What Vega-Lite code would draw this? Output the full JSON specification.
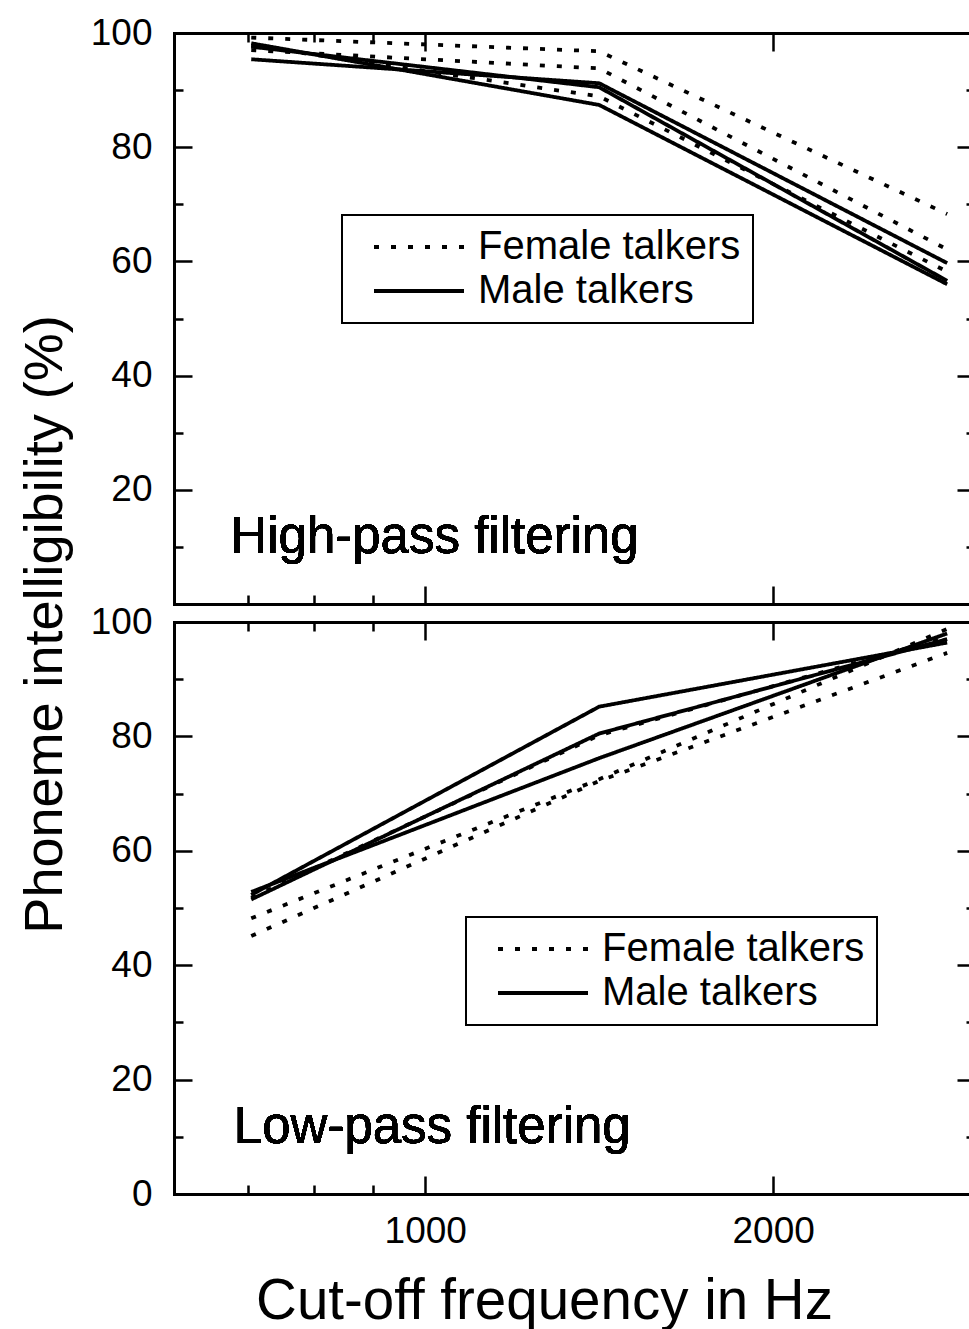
{
  "$schema": "https://vega.github.io/schema/vega-lite/v6.json",
  "autosize": {"type": "none"},
  "padding": {"left": 174, "top": 33, "right": 795, "bottom": 1296},
  "background": "white",
  "bounds": "flush",
  "spacing": 18,
  "config": {
    "view": {"stroke": null},
    "font": "Liberation Sans",
    "axis": {
      "grid": false,
      "domainColor": "black",
      "domainWidth": 3,
      "domainCap": "square",
      "tickColor": "black",
      "tickWidth": 2.5,
      "labelColor": "black",
      "labelFont": "Liberation Sans",
      "labelFontSize": 37,
      "titleColor": "black",
      "titleFont": "Liberation Sans",
      "titleFontWeight": "normal",
      "labelOverlap": false,
      "labelFlush": false,
      "labelBound": false
    },
    "legend": {
      "labelFont": "Liberation Sans",
      "labelColor": "black"
    }
  },
  "datasets": {
    "high": [
      {"talker": "M1", "gender": "Male talkers", "freq": 500, "pct": 98.2},
      {"talker": "M1", "gender": "Male talkers", "freq": 1500, "pct": 87.4},
      {"talker": "M1", "gender": "Male talkers", "freq": 2500, "pct": 56.0},
      {"talker": "M2", "gender": "Male talkers", "freq": 500, "pct": 95.4},
      {"talker": "M2", "gender": "Male talkers", "freq": 1500, "pct": 91.2},
      {"talker": "M2", "gender": "Male talkers", "freq": 2500, "pct": 59.7},
      {"talker": "M3", "gender": "Male talkers", "freq": 500, "pct": 97.6},
      {"talker": "M3", "gender": "Male talkers", "freq": 1500, "pct": 90.5},
      {"talker": "M3", "gender": "Male talkers", "freq": 2500, "pct": 56.6},
      {"talker": "F1", "gender": "Female talkers", "freq": 500, "pct": 99.2},
      {"talker": "F1", "gender": "Female talkers", "freq": 1500, "pct": 96.8},
      {"talker": "F1", "gender": "Female talkers", "freq": 2500, "pct": 68.3},
      {"talker": "F2", "gender": "Female talkers", "freq": 500, "pct": 97.0},
      {"talker": "F2", "gender": "Female talkers", "freq": 1500, "pct": 93.8},
      {"talker": "F2", "gender": "Female talkers", "freq": 2500, "pct": 62.1},
      {"talker": "F3", "gender": "Female talkers", "freq": 500, "pct": 97.8},
      {"talker": "F3", "gender": "Female talkers", "freq": 1500, "pct": 88.9},
      {"talker": "F3", "gender": "Female talkers", "freq": 2500, "pct": 58.2}
    ],
    "low": [
      {"talker": "M1", "gender": "Male talkers", "freq": 500, "pct": 52.3},
      {"talker": "M1", "gender": "Male talkers", "freq": 1500, "pct": 85.2},
      {"talker": "M1", "gender": "Male talkers", "freq": 2500, "pct": 96.4},
      {"talker": "M2", "gender": "Male talkers", "freq": 500, "pct": 51.5},
      {"talker": "M2", "gender": "Male talkers", "freq": 1500, "pct": 80.5},
      {"talker": "M2", "gender": "Male talkers", "freq": 2500, "pct": 97.0},
      {"talker": "M3", "gender": "Male talkers", "freq": 500, "pct": 52.8},
      {"talker": "M3", "gender": "Male talkers", "freq": 1500, "pct": 76.2},
      {"talker": "M3", "gender": "Male talkers", "freq": 2500, "pct": 98.0},
      {"talker": "F1", "gender": "Female talkers", "freq": 500, "pct": 51.8},
      {"talker": "F1", "gender": "Female talkers", "freq": 1500, "pct": 80.2},
      {"talker": "F1", "gender": "Female talkers", "freq": 2500, "pct": 97.4},
      {"talker": "F2", "gender": "Female talkers", "freq": 500, "pct": 48.2},
      {"talker": "F2", "gender": "Female talkers", "freq": 1500, "pct": 72.5},
      {"talker": "F2", "gender": "Female talkers", "freq": 2500, "pct": 98.8},
      {"talker": "F3", "gender": "Female talkers", "freq": 500, "pct": 45.1},
      {"talker": "F3", "gender": "Female talkers", "freq": 1500, "pct": 72.2},
      {"talker": "F3", "gender": "Female talkers", "freq": 2500, "pct": 94.6}
    ]
  },
  "resolve": {"scale": {"strokeDash": "independent"}, "legend": {"strokeDash": "independent"}},
  "vconcat": [
    {
      "width": 801,
      "height": 571,
      "data": {"name": "high"},
      "resolve": {"axis": {"x": "independent", "y": "independent"}},
      "layer": [
        {
          "mark": {"type": "line", "stroke": "black", "strokeWidth": 3.8},
          "encoding": {
            "x": {
              "field": "freq", "type": "quantitative",
              "scale": {"domain": [278, 2580], "nice": false, "zero": false},
              "axis": {
                "orient": "bottom", "labels": false, "title": null,
                "values": [490, 680, 850, 1000, 2000],
                "tickSize": {"condition": {"test": "datum.value >= 1000", "value": -18}, "value": -9}
              }
            },
            "y": {
              "field": "pct", "type": "quantitative",
              "scale": {"domain": [0, 100], "nice": false},
              "axis": {
                "orient": "left",
                "values": [0, 10, 20, 30, 40, 50, 60, 70, 80, 90, 100],
                "labelExpr": "(datum.value % 20 === 0 && datum.value > 0) ? datum.label : ''",
                "tickSize": {"condition": {"test": "datum.value % 20 === 0", "value": -18}, "value": -9},
                "labelPadding": 40,
                "title": "Phoneme intelligibility (%)",
                "titleFontSize": 54,
                "titleX": -113,
                "titleY": 591,
                "titleAngle": -90,
                "titleAlign": "center",
                "titleBaseline": "alphabetic"
              }
            },
            "strokeDash": {
              "field": "gender", "type": "nominal",
              "scale": {"domain": ["Female talkers", "Male talkers"], "range": [[5, 12], [1, 0]]},
              "legend": {
                "orient": "none", "legendX": 168, "legendY": 182, "title": null,
                "symbolType": "M0,0H10", "symbolSize": 324,
                "symbolStrokeWidth": 3.8, "symbolStrokeColor": "black", "symbolFillColor": "transparent",
                "labelFontSize": 40, "labelOffset": 84, "labelLimit": 0,
                "padding": 12, "rowPadding": 4,
                "strokeColor": "black", "fillColor": "white",
                "encode": {"legend": {"update": {"strokeWidth": {"value": 2}}}}
              }
            },
            "detail": {"field": "talker"}
          }
        },
        {
          "mark": {"type": "point", "opacity": 0},
          "encoding": {
            "x": {
              "field": "freq", "type": "quantitative",
              "axis": {
                "orient": "top", "labels": false, "title": null,
                "values": [490, 680, 850, 1000, 2000],
                "tickSize": {"condition": {"test": "datum.value >= 1000", "value": -18}, "value": -9}
              }
            },
            "y": {
              "field": "pct", "type": "quantitative",
              "axis": {
                "orient": "right", "labels": false, "title": null,
                "values": [0, 10, 20, 30, 40, 50, 60, 70, 80, 90, 100],
                "tickSize": {"condition": {"test": "datum.value % 20 === 0", "value": -18}, "value": -9}
              }
            }
          }
        },
        {
          "mark": {"type": "text", "text": "High-pass filtering", "align": "left", "baseline": "alphabetic", "fontSize": 51, "font": "Liberation Sans", "color": "black"},
          "encoding": {
            "x": {"datum": 440, "type": "quantitative", "axis": null},
            "y": {"datum": 8.9, "type": "quantitative", "axis": null}
          }
        }
      ]
    },
    {
      "width": 801,
      "height": 572,
      "data": {"name": "low"},
      "resolve": {"axis": {"x": "independent", "y": "independent"}},
      "layer": [
        {
          "mark": {"type": "line", "stroke": "black", "strokeWidth": 3.8},
          "encoding": {
            "x": {
              "field": "freq", "type": "quantitative",
              "scale": {"domain": [278, 2580], "nice": false, "zero": false},
              "axis": {
                "orient": "bottom",
                "values": [490, 680, 850, 1000, 2000],
                "labelExpr": "datum.value >= 1000 ? datum.label : ''",
                "tickSize": {"condition": {"test": "datum.value >= 1000", "value": -18}, "value": -9},
                "labelPadding": 37,
                "format": "d",
                "title": "Cut-off frequency in Hz",
                "titleFontSize": 56.5,
                "titleX": 370,
                "titleY": 124,
                "titleAlign": "center",
                "titleBaseline": "alphabetic"
              }
            },
            "y": {
              "field": "pct", "type": "quantitative",
              "scale": {"domain": [0, 100], "nice": false},
              "axis": {
                "orient": "left",
                "values": [0, 10, 20, 30, 40, 50, 60, 70, 80, 90, 100],
                "labelExpr": "datum.value % 20 === 0 ? datum.label : ''",
                "tickSize": {"condition": {"test": "datum.value % 20 === 0", "value": -18}, "value": -9},
                "labelPadding": 40,
                "title": null
              }
            },
            "strokeDash": {
              "field": "gender", "type": "nominal",
              "scale": {"domain": ["Female talkers", "Male talkers"], "range": [[5, 12], [1, 0]]},
              "legend": {
                "orient": "none", "legendX": 292, "legendY": 295, "title": null,
                "symbolType": "M0,0H10", "symbolSize": 324,
                "symbolStrokeWidth": 3.8, "symbolStrokeColor": "black", "symbolFillColor": "transparent",
                "labelFontSize": 40, "labelOffset": 84, "labelLimit": 0,
                "padding": 12, "rowPadding": 4,
                "strokeColor": "black", "fillColor": "white",
                "encode": {"legend": {"update": {"strokeWidth": {"value": 2}}}}
              }
            },
            "detail": {"field": "talker"}
          }
        },
        {
          "mark": {"type": "point", "opacity": 0},
          "encoding": {
            "x": {
              "field": "freq", "type": "quantitative",
              "axis": {
                "orient": "top", "labels": false, "title": null,
                "values": [490, 680, 850, 1000, 2000],
                "tickSize": {"condition": {"test": "datum.value >= 1000", "value": -18}, "value": -9}
              }
            },
            "y": {
              "field": "pct", "type": "quantitative",
              "axis": {
                "orient": "right", "labels": false, "title": null,
                "values": [0, 10, 20, 30, 40, 50, 60, 70, 80, 90, 100],
                "tickSize": {"condition": {"test": "datum.value % 20 === 0", "value": -18}, "value": -9}
              }
            }
          }
        },
        {
          "mark": {"type": "text", "text": "Low-pass filtering", "align": "left", "baseline": "alphabetic", "fontSize": 51, "font": "Liberation Sans", "color": "black"},
          "encoding": {
            "x": {"datum": 450, "type": "quantitative", "axis": null},
            "y": {"datum": 8.9, "type": "quantitative", "axis": null}
          }
        }
      ]
    }
  ]
}
